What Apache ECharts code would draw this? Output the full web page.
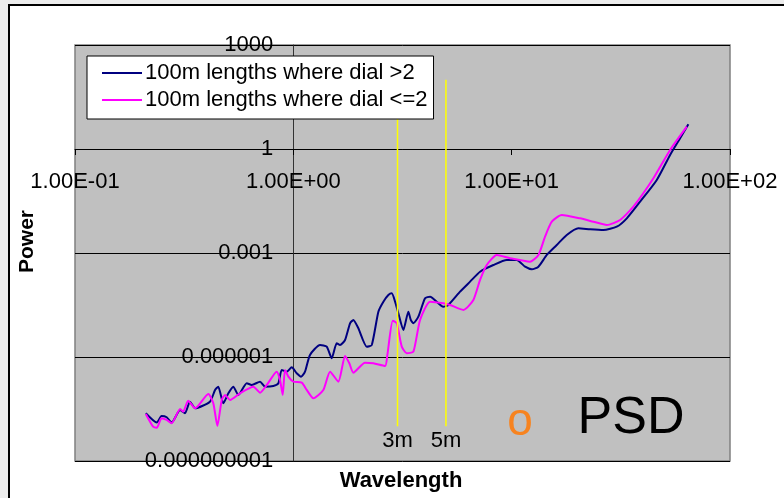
<!DOCTYPE html>
<html>
<head>
<meta charset="utf-8">
<script src="https://cdn.jsdelivr.net/npm/echarts@6/dist/echarts.min.js"></script>
<style>
  html, body { margin: 0; padding: 0; background: #ececec; overflow: hidden; }
  #frame { position: absolute; left: 8px; top: 4px; width: 800px; height: 520px;
           background: #fff; border-left: 2px solid #000; border-top: 2px solid #000; }
  #chart { position: absolute; left: 0; top: 0; width: 784px; height: 498px; }
</style>
</head>
<body>
<div id="frame"></div>
<div id="chart"></div>
<script>
// Power spectral density of 100 m lengths, split by dial reading
const seriesNames = ['100m lengths where dial >2', '100m lengths where dial <=2'];

const dialHighX = [0.211,0.237,0.249,0.263,0.277,0.303,0.319,0.336,0.355,0.415,0.438,0.453,0.478,0.504,0.531,0.560,0.612,0.645,0.704,0.742,0.810,0.854,0.885,0.933,0.983,1.036,1.085,1.131,1.192,1.325,1.422,1.499,1.58,1.636,1.725,1.819,1.883,1.985,2.169,2.287,2.452,2.585,2.724,2.824,2.924,3.027,3.191,3.364,3.451,3.547,3.738,4.012,4.228,4.864,5.129,5.801,6.449,7.165,8.245,9.497,10.55,11.52,12.37,13.26,14.48,16.09,17.88,20.21,22.87,26.31,30.30,33.68,38.75,46.20,53.17,59.08,64.47];
const dialHighY = [2.38e-8,1.28e-8,1.99e-8,1.83e-8,1.28e-8,2.96e-8,2.38e-8,5.15e-8,3.32e-8,5.15e-8,1.12e-7,1.39e-7,4.62e-8,8.99e-8,1.39e-7,8.04e-8,1.75e-7,1.56e-7,1.94e-7,1.39e-7,1.46e-7,1.75e-7,4.23e-7,3.78e-7,5.06e-7,3.40e-7,2.71e-7,3.78e-7,1.15e-6,2.22e-6,1.99e-6,9.19e-7,2.49e-6,2.22e-6,3.10e-6,9.40e-6,1.17e-5,6.74e-6,1.99e-6,2.22e-6,2.03e-5,3.94e-5,6.15e-5,6.89e-5,3.94e-5,1.82e-5,6.03e-6,2.03e-5,1.17e-5,9.40e-6,1.46e-5,4.94e-5,5.50e-5,2.83e-5,3.17e-5,7.66e-5,1.49e-4,2.89e-4,4.51e-4,6.29e-4,6.29e-4,4.03e-4,3.39e-4,4.03e-4,8.77e-4,1.70e-3,3.31e-3,5.16e-3,4.83e-3,4.61e-3,5.74e-3,1.00e-2,3.02e-2,0.128,0.671,2.04,5.16];

const dialLowX = [0.211,0.228,0.237,0.249,0.263,0.277,0.303,0.313,0.330,0.355,0.408,0.430,0.449,0.470,0.487,0.513,0.570,0.656,0.704,0.756,0.839,0.869,0.894,0.916,0.949,1.0,1.093,1.152,1.235,1.372,1.473,1.607,1.725,1.805,1.883,2.130,2.326,2.631,2.696,2.853,2.977,3.138,3.307,3.547,3.805,4.228,4.864,5.222,6.008,6.678,7.165,7.690,8.549,9.83,12.14,13.26,14.22,15.27,16.96,20.58,23.67,27.27,31.37,36.10,44.59,53.17,63.40];
const dialLowY = [2.28e-8,9.79e-9,9.16e-9,1.71e-8,1.53e-8,1.23e-8,3.17e-8,2.65e-8,5.50e-8,3.32e-8,8.59e-8,4.62e-8,1.03e-8,5.77e-8,8.04e-8,5.77e-8,8.99e-8,1.39e-7,9.35e-8,1.56e-7,3.78e-7,2.17e-7,8.04e-8,4.23e-7,2.71e-7,1.94e-7,1.82e-7,1.12e-7,6.45e-8,1.12e-7,3.78e-7,1.94e-7,1.07e-6,6.59e-7,3.53e-7,6.87e-7,6.59e-7,5.51e-7,1.15e-6,1.12e-5,9.40e-6,1.99e-6,1.28e-6,1.43e-6,1.17e-5,3.94e-5,3.55e-5,3.17e-5,2.28e-5,4.42e-5,1.67e-4,4.51e-4,8.77e-4,7.05e-4,5.62e-4,8.77e-4,2.96e-3,8.00e-3,1.25e-2,1.00e-2,8.00e-3,6.43e-3,8.96e-3,2.17e-2,0.143,0.936,4.40];

// Reference wavelengths marked with vertical lines
const markerX = [3, 5];
const markerLabels = ['3m', '5m'];
const markerSpan = [1e-8, 100];

// Axis ranges (log scale)
const xRange = [0.1, 100];
const yRange = [1e-9, 1000];

const zip = (xs, ys) => xs.map((x, i) => [x, ys[i]]);

function sciLabel(v) {
  const e = Math.round(Math.log10(v));
  const m = v / Math.pow(10, e);
  return m.toFixed(2) + 'E' + (e < 0 ? '-' : '+') + String(Math.abs(e)).padStart(2, '0');
}
function decLabel(v) {
  const e = Math.round(Math.log10(v));
  return e >= 0 ? String(Math.round(v)) : v.toFixed(-e);
}

const FONT = 'Liberation Sans, Arial, sans-serif';
const chart = echarts.init(document.getElementById('chart'), null, { renderer: 'canvas' });

// vertical yellow guide lines
const markerSeries = markerX.map((x) => ({
  type: 'line',
  silent: true,
  z: 3,
  data: [[x, markerSpan[0]], [x, markerSpan[1]]],
  symbol: 'none',
  lineStyle: { color: '#ffff00', width: 1.5 }
}));

// their captions, hung under the lower end of each line
const markerCaptions = {
  type: 'scatter',
  silent: true,
  z: 3,
  symbol: 'circle',
  symbolSize: 2,
  itemStyle: { color: 'rgba(0,0,0,0)' },
  data: markerX.map((x, i) => ({ value: [x, markerSpan[0]], name: markerLabels[i] })),
  label: { show: true, position: 'bottom', distance: 3, offset: [7, 1],
           formatter: (p) => p.name, color: '#000', opacity: 1,
           fontFamily: FONT, fontSize: 22 },
  labelLayout: { hideOverlap: false }
};

chart.setOption({
  animation: false,
  textStyle: { fontFamily: FONT },
  grid: { left: 75, top: 45, width: 655, height: 416, show: true,
          backgroundColor: '#c0c0c0', borderColor: '#808080', borderWidth: 1.5 },
  legend: {
    data: seriesNames,
    orient: 'vertical', left: 87, top: 56,
    padding: [6, 6, 8, 15], itemGap: 5, itemWidth: 40, itemHeight: 2,
    icon: 'rect',
    backgroundColor: '#fff', borderColor: '#000', borderWidth: 1,
    textStyle: { fontFamily: FONT, fontSize: 22, color: '#000', padding: [0, 0, 0, -2] },
    z: 10
  },
  xAxis: {
    type: 'log', logBase: 10, min: xRange[0], max: xRange[1], interval: 1,
    position: 'bottom', offset: -312,
    axisLine: { onZero: false, lineStyle: { color: '#000', width: 1 } },
    axisTick: { show: true, length: 6, lineStyle: { color: '#000' } },
    axisLabel: { formatter: sciLabel, margin: 22, fontSize: 22, color: '#000', fontFamily: FONT },
    splitLine: { show: false },
    minorTick: { show: false }
  },
  yAxis: {
    type: 'log', logBase: 10, min: yRange[0], max: yRange[1], interval: 3,
    position: 'left', offset: -218.3,
    axisLine: { onZero: false, lineStyle: { color: '#333', width: 1 } },
    axisTick: { show: true, length: 5, lineStyle: { color: '#000' } },
    axisLabel: { formatter: decLabel, margin: 20, fontSize: 22, color: '#000', fontFamily: FONT },
    splitLine: { show: true, lineStyle: { color: '#000', width: 1 } }
  },
  graphic: [
    { type: 'text', left: 17, top: 240 - 30, rotation: Math.PI / 2,
      style: { text: 'Power', font: 'bold 21px ' + FONT, fill: '#000' } },
    { type: 'text', x: 401, y: 481,
      style: { text: 'Wavelength', font: 'bold 22px ' + FONT, fill: '#000',
               align: 'center', verticalAlign: 'middle' } },
    { type: 'text', x: 520, y: 422,
      style: { text: 'o', font: '46px ' + FONT, fill: '#f7831f',
               align: 'center', verticalAlign: 'middle' } },
    { type: 'text', x: 631, y: 419,
      style: { text: 'PSD', font: '52px ' + FONT, fill: '#000',
               align: 'center', verticalAlign: 'middle' } }
  ],
  series: [
    { name: seriesNames[0], type: 'line', data: zip(dialHighX, dialHighY),
      symbol: 'none', smooth: 0.2, z: 2,
      lineStyle: { color: '#000080', width: 2 }, itemStyle: { color: '#000080' } },
    { name: seriesNames[1], type: 'line', data: zip(dialLowX, dialLowY),
      symbol: 'none', smooth: 0.2, z: 2,
      lineStyle: { color: '#ff00ff', width: 2 }, itemStyle: { color: '#ff00ff' } },
    ...markerSeries,
    markerCaptions
  ]
});
</script>
</body>
</html>
